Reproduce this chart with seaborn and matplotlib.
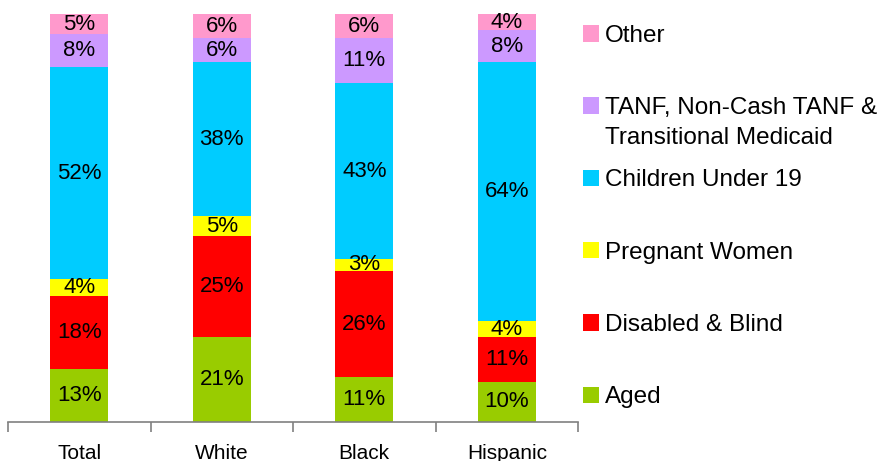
import numpy as np
import pandas as pd
import matplotlib
matplotlib.use("Agg")
import matplotlib.pyplot as plt
import seaborn as sns
from matplotlib.patches import Patch

categories = ["Total", "White", "Black", "Hispanic"]
series_names = ["Aged", "Disabled & Blind", "Pregnant Women", "Children Under 19",
                "TANF, Non-Cash TANF &", "Other"]
tanf_second_line = "Transitional Medicaid"
aged = [13, 21, 11, 10]
disabled = [18, 25, 26, 11]
pregnant = [4, 5, 3, 4]
children = [52, 38, 43, 64]
tanf = [8, 6, 11, 8]
other = [5, 6, 6, 4]
colors = ["#99CC00", "#FF0000", "#FFFF00", "#00CCFF", "#CC99FF", "#FF99CC"]

values = np.array([aged, disabled, pregnant, children, tanf, other], dtype=float)
shares = values / values.sum(axis=0) * 100

sns.set_theme(style="white")
plt.rcParams["font.family"] = ["Liberation Sans", "DejaVu Sans"]
plt.rcParams["text.color"] = "black"

fig = plt.figure(figsize=(8.82, 4.61), dpi=100)
ax = fig.add_axes([8 / 882, 1 - 422 / 461, 570 / 882, 408 / 461])

bottom = np.zeros(len(categories))
for i, name in enumerate(series_names):
    df = pd.DataFrame({"cat": categories, "val": shares[i]})
    sns.barplot(data=df, x="cat", y="val", color=colors[i], width=0.41,
                bottom=bottom, ax=ax, saturation=1, linewidth=0, errorbar=None)
    for j in range(len(categories)):
        ax.text(j, bottom[j] + shares[i][j] / 2, f"{int(values[i][j])}%",
                ha="center", va="center", fontsize=16, color="black")
    bottom = bottom + shares[i]

ax.set_xlim(-0.5, 3.5)
ax.set_ylim(0, 100)
ax.set_xlabel("")
ax.set_ylabel("")
ax.set_yticks([])
for s in ["top", "right", "left"]:
    ax.spines[s].set_visible(False)
ax.spines["bottom"].set_color("#808080")
ax.spines["bottom"].set_linewidth(1.2)
ax.set_xticks(range(len(categories)))
ax.set_xticklabels(categories, fontsize=15, color="black")
ax.set_xticks([-0.5, 0.5, 1.5, 2.5, 3.5], minor=True)
ax.tick_params(axis="x", which="major", length=0, pad=16)
ax.tick_params(axis="x", which="minor", length=7, width=1.2, color="#808080",
               direction="out", bottom=True)

handles = [Patch(facecolor=c, edgecolor="none") for c in colors][::-1]
labels = series_names[::-1]
leg = fig.legend(handles, labels, loc="upper left",
                 bbox_to_anchor=(578 / 882, 1 - 20 / 461),
                 frameon=False, fontsize=17.5, handlelength=0.66, handleheight=0.66,
                 handletextpad=0.26, labelspacing=2.07, borderaxespad=0, borderpad=0.2,
                 labelcolor="black")
tanf_text = leg.get_texts()[1]
ann = plt.Annotation(tanf_second_line, xy=(0, 0), xycoords=tanf_text,
                     xytext=(0, -30), textcoords="offset pixels",
                     ha="left", va="bottom", fontsize=17.5, color="black")
ann.set_zorder(10)
fig.add_artist(ann)

fig.savefig("out.png", dpi=100)
